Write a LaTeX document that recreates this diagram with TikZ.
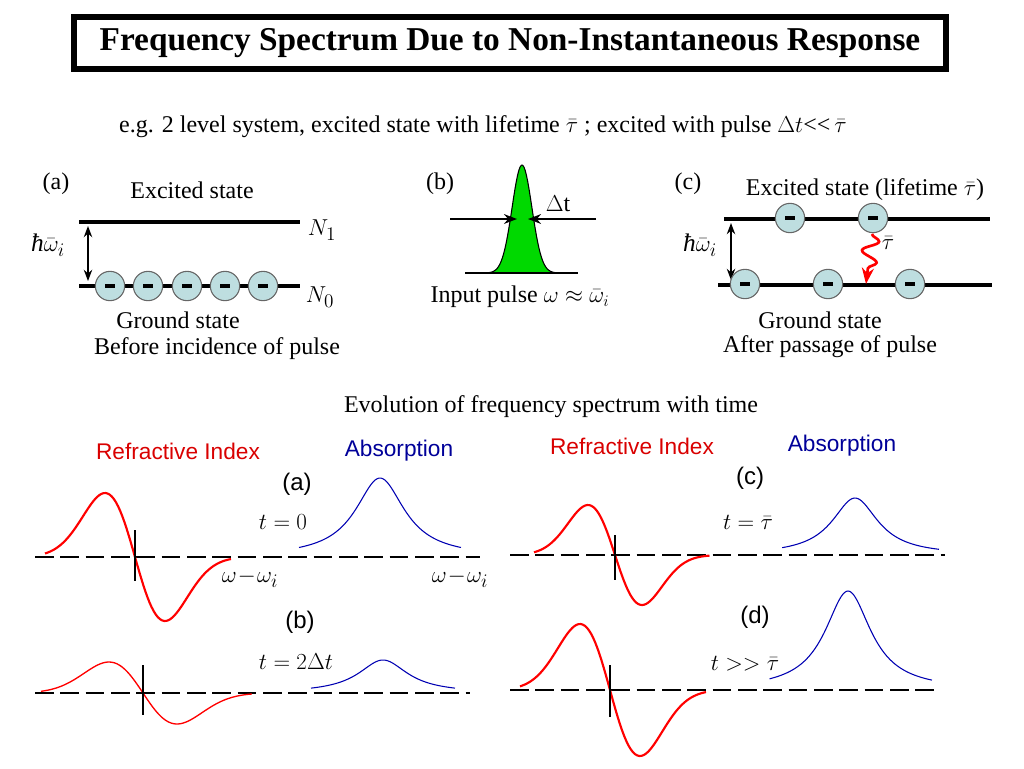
\documentclass[tikz,border=0pt]{standalone}
\usepackage{fontspec}
\setmainfont{Liberation Serif}
\newfontfamily\sansf{Liberation Sans}
\usetikzlibrary{arrows.meta,decorations.pathmorphing}
\begin{document}
\begin{tikzpicture}[x=0.75pt,y=-0.75pt,
  txt/.style={inner sep=0pt,font=\fontsize{18}{21}\selectfont},
  lbl/.style={inner sep=0pt,font=\fontsize{19}{22}\selectfont},
  hdr/.style={inner sep=0pt,font=\sansf\fontsize{17}{20}\selectfont},
  plab/.style={inner sep=0pt,font=\sansf\fontsize{18}{21}\selectfont},
  lvl/.style={line width=3pt},
  elec/.style={circle,draw=black!60,fill={rgb,255:red,190;green,222;blue,224},minimum size=22pt,inner sep=0pt,line width=0.8pt},
  base/.style={line width=1.6pt,dash pattern=on 14pt off 5pt},
  rc/.style={red,line width=1.6pt},
  bc/.style={blue!70!black,line width=0.8pt},
  tick/.style={line width=2.2pt}]
\useasboundingbox (0,0) rectangle (1024,768);
% title
\node[draw,line width=4pt,minimum width=872*0.75pt,minimum height=52*0.75pt,font=\bfseries\fontsize{25}{29}\selectfont] (title) at (510,43) {Frequency Spectrum Due to Non-Instantaneous Response};
\node[txt] (eg) at (483,127) {e.g. 2 level system, excited state with lifetime $\bar\tau$ ; excited with pulse $\Delta t${<}{<}\,$\bar\tau$};
% (a) top
\node[txt] (pa) at (56,184) {(a)};
\node[txt] (exa) at (192,190) {Excited state};
\coordinate (n1l) at (79,222); \coordinate (n1r) at (300,222);
\draw[lvl] (n1l) -- (n1r);
\node[lbl] (N1) at (322,230) {$N_1$};
\coordinate (n0l) at (79,286); \coordinate (n0r) at (300,286);
\draw[lvl] (n0l) -- (n0r);
\node[lbl] (N0) at (320,297) {$N_0$};
\coordinate (aa1) at (88,226); \coordinate (aa2) at (88,281);
\draw[{Stealth}-{Stealth},line width=1.2pt] (aa1) -- (aa2);
\node[lbl] (hwa) at (48,245) {{\itshape ħ}$\bar\omega_i$};
\foreach \x [count=\i] in {110,148,187,225,263}{
  \node[elec] (ea\i) at (\x,286) {\rule{7pt}{3.5pt}};}
\node[txt] (gsa) at (178,320) {Ground state};
\node[txt] (bef) at (217,349) {Before incidence of pulse};
% (b) top
\node[txt] (pb) at (440,184) {(b)};
\fill[green!85!black] plot[domain=-50:50,samples=80] ({522+\x},{273-108*exp(-(\x/14)^2)}) -- cycle;
\draw[line width=0.8pt] plot[domain=-50:50,samples=80] ({522+\x},{273-108*exp(-(\x/14)^2)});
\coordinate (bl) at (465,273); \coordinate (br) at (578,273);
\draw[line width=1.5pt] (bl) -- (br);
\coordinate (ba1) at (450,219); \coordinate (ba2) at (517,219);
\coordinate (bb1) at (596,219); \coordinate (bb2) at (528,219);
\draw[-{Stealth},line width=1.5pt] (ba1) -- (ba2);
\draw[-{Stealth},line width=1.5pt] (bb1) -- (bb2);
\node[txt] (dt) at (558,204) {$\Delta$t};
\node[txt] (inp) at (520,297) {Input pulse $\omega\approx\bar\omega_i$};
% (c) top
\node[txt] (pc) at (688,184) {(c)};
\node[txt] (exc) at (865,190) {Excited state (lifetime $\bar\tau$)};
\coordinate (c1l) at (724,219); \coordinate (c1r) at (990,219);
\draw[lvl] (c1l) -- (c1r);
\coordinate (c0l) at (718,285); \coordinate (c0r) at (992,285);
\draw[lvl] (c0l) -- (c0r);
\coordinate (ca1) at (731,223); \coordinate (ca2) at (731,280);
\draw[{Stealth}-{Stealth},line width=1.2pt] (ca1) -- (ca2);
\node[lbl] (hwc) at (700,245) {{\itshape ħ}$\bar\omega_i$};
\node[elec] (ec1) at (790,218) {\rule{7pt}{3.5pt}};
\node[elec] (ec2) at (873,218) {\rule{7pt}{3.5pt}};
\node[elec] (ec3) at (745,284) {\rule{7pt}{3.5pt}};
\node[elec] (ec4) at (828,284) {\rule{7pt}{3.5pt}};
\node[elec] (ec5) at (910,284) {\rule{7pt}{3.5pt}};
\coordinate (w1) at (872,234); \coordinate (w2) at (866,284);
\draw[red,line width=2pt,-{Stealth},decorate,decoration={snake,amplitude=6pt,segment length=16pt,post length=6pt}] (w1) -- (w2);
\node[lbl] (tauc) at (888,243) {$\bar\tau$};
\node[txt] (gsc) at (820,320) {Ground state};
\node[txt] (aft) at (830,347) {After passage of pulse};
% evolution
\node[txt] (evo) at (551,407) {Evolution of frequency spectrum with time};
\node[hdr,red!85!black] (h1) at (178,451) {Refractive Index};
\node[hdr,blue!60!black] (h2) at (399,451) {Absorption};
\node[hdr,red!85!black] (h3) at (632,446) {Refractive Index};
\node[hdr,blue!60!black] (h4) at (842,446) {Absorption};
% panel a
\coordinate (al) at (35,557); \coordinate (ar) at (480,557);
\draw[base] (al) -- (ar);
\draw[rc] plot[domain=-3:3.2,samples=90] ({135+30*\x},{557+64*\x*exp((1-\x*\x)/2)});
\draw[bc] plot[domain=-2.7:2.7,samples=90] ({380+30*\x},{557-79/(1+\x*\x)});
\coordinate (ta1) at (135,530); \coordinate (ta2) at (135,581);
\draw[tick] (ta1) -- (ta2);
\node[plab] (la) at (297,484) {(a)};
\node[lbl] (ta) at (283,522) {$t=0$};
\node[lbl] (wa1) at (250,578) {$\omega\!-\!\omega_i$};
\node[lbl] (wa2) at (460,578) {$\omega\!-\!\omega_i$};
% panel b
\coordinate (bl2) at (35,693); \coordinate (br2) at (470,693);
\draw[base] (bl2) -- (br2);
\draw[rc,line width=1pt] plot[domain=-3:3.2,samples=90] ({143+34*\x},{693+31*\x*exp((1-\x*\x)/2)});
\draw[bc] plot[domain=-2.4:2.4,samples=90] ({383+30*\x},{693-33/(1+\x*\x)});
\coordinate (tb1) at (143,665); \coordinate (tb2) at (143,715);
\draw[tick] (tb1) -- (tb2);
\node[plab] (lb) at (300,622) {(b)};
\node[lbl] (tb) at (296,662) {$t=2\Delta t$};
% panel c
\coordinate (cl) at (510,555); \coordinate (cr) at (945,555);
\draw[base] (cl) -- (cr);
\draw[rc] plot[domain=-3:3.5,samples=90] ({615+27*\x},{555+50*\x*exp((1-\x*\x)/2)});
\draw[bc] plot[domain=-2.6:3,samples=90] ({855+28*\x},{555-57/(1+\x*\x)});
\coordinate (tc1) at (615,535); \coordinate (tc2) at (615,580);
\draw[tick] (tc1) -- (tc2);
\node[plab] (lc) at (750,478) {(c)};
\node[lbl] (tcl) at (748,522) {$t=\bar\tau$};
% panel d
\coordinate (dl) at (510,690); \coordinate (dr) at (940,690);
\draw[base] (dl) -- (dr);
\draw[rc] plot[domain=-3:3.2,samples=90] ({610+30*\x},{690+66*\x*exp((1-\x*\x)/2)});
\draw[bc] plot[domain=-2.8:3,samples=90] ({848+28*\x},{690-99/(1+\x*\x)});
\coordinate (td1) at (610,665); \coordinate (td2) at (610,717);
\draw[tick] (td1) -- (td2);
\node[plab] (ld) at (755,617) {(d)};
\node[lbl] (tdl) at (745,664) {$t>>\bar\tau$};
\end{tikzpicture}
\end{document}
